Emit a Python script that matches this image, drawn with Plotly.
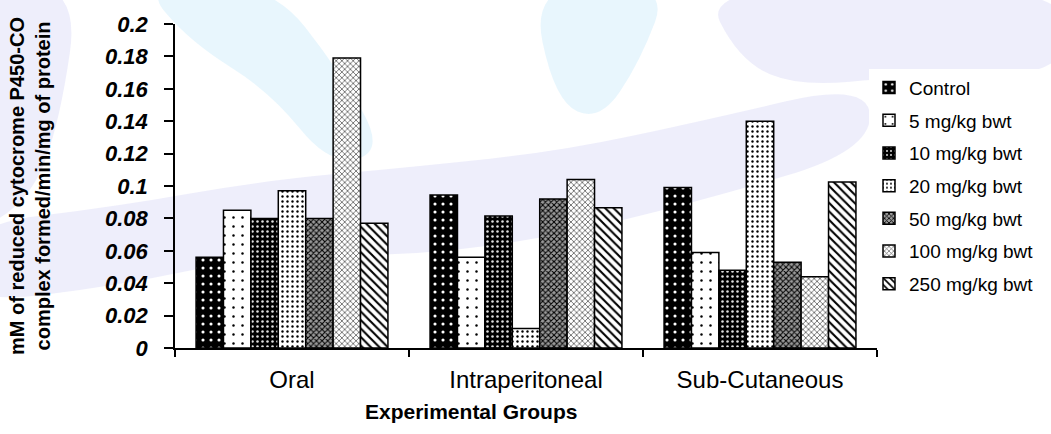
import plotly.graph_objects as go

# Route of administration groups
groups = ["Oral", "Intraperitoneal", "Sub-Cutaneous"]

# Dose series names
doses = ["Control", "5 mg/kg bwt", "10 mg/kg bwt", "20 mg/kg bwt",
         "50 mg/kg bwt", "100 mg/kg bwt", "250 mg/kg bwt"]

# Reduced cytochrome P450-CO complex (mM/min/mg protein) per dose, per group
control = [0.056, 0.0945, 0.099]
dose_5 = [0.085, 0.056, 0.059]
dose_10 = [0.080, 0.0815, 0.048]
dose_20 = [0.097, 0.012, 0.140]
dose_50 = [0.080, 0.092, 0.053]
dose_100 = [0.179, 0.104, 0.044]
dose_250 = [0.077, 0.0865, 0.1025]

series = [control, dose_5, dose_10, dose_20, dose_50, dose_100, dose_250]

# Fill pattern for each dose: (shape, background, foreground, size, solidity)
patterns = [
    (".", "#000000", "#ffffff", 8, 0.12),
    (".", "#ffffff", "#000000", 9, 0.06),
    (".", "#000000", "#e0e0e0", 5, 0.20),
    (".", "#ffffff", "#000000", 5, 0.18),
    ("x", "#9a9a9a", "#000000", 4, 0.45),
    ("x", "#ffffff", "#555555", 4, 0.35),
    ("\\", "#ffffff", "#000000", 6, 0.35),
]

# Plot area in page pixels, used to place the faint backdrop swirls
PX_L, PX_R, PX_T, PX_B = 175, 877, 22, 348


def to_paper(x, y):
    return (x - PX_L) / (PX_R - PX_L), (PX_B - y) / (PX_B - PX_T)


def smooth_path(pts):
    """Closed, rounded outline through the midpoints of the given corners."""
    p = [to_paper(x, y) for x, y in pts]
    n = len(p)
    mid = [((p[i][0] + p[(i + 1) % n][0]) / 2, (p[i][1] + p[(i + 1) % n][1]) / 2)
           for i in range(n)]
    d = f"M {mid[-1][0]:.4f},{mid[-1][1]:.4f}"
    for i in range(n):
        d += f" Q {p[i][0]:.4f},{p[i][1]:.4f} {mid[i][0]:.4f},{mid[i][1]:.4f}"
    return d + " Z"


LAV = "rgba(200,200,242,0.30)"
BLUE = "rgba(180,225,248,0.30)"

# Soft decorative backdrop bands (lavender and pale blue)
backdrop = [
    ([(-40, -20), (80, -20), (60, 120), (30, 200), (-40, 240)], LAV),
    ([(-40, 225), (120, 205), (260, 180), (420, 165), (560, 150), (700, 120), (870, 80),
      (870, 150), (700, 200), (560, 235), (420, 255), (260, 255), (120, 285), (-40, 305)], LAV),
    ([(140, -20), (270, -20), (340, 70), (385, 150), (330, 165), (270, 90), (190, 40)], BLUE),
    ([(530, -20), (670, -20), (640, 60), (600, 120), (555, 100)], BLUE),
    ([(700, -20), (1070, -20), (1070, 75), (900, 75), (800, 85), (740, 60)], LAV),
]

fig = go.Figure()
for name, vals, (shape, bg, fg, size, sol) in zip(doses, series, patterns):
    fig.add_trace(go.Bar(
        x=groups, y=vals, name=name, legendgroup=name,
        marker=dict(
            color=bg,
            line=dict(color="#000000", width=1.5),
            pattern=dict(shape=shape, bgcolor=bg, fgcolor=fg,
                         size=size, solidity=sol, fillmode="replace"),
        ),
    ))

fig.update_layout(
    width=1051, height=434,
    margin=dict(l=PX_L, r=1051 - PX_R, t=PX_T, b=434 - PX_B),
    paper_bgcolor="#ffffff",
    plot_bgcolor="rgba(0,0,0,0)",
    barmode="group",
    bargap=0.18,
    bargroupgap=0,
    font=dict(family="Arial", color="#000000"),
    shapes=[dict(type="path", path=smooth_path(pts), xref="paper", yref="paper",
                 fillcolor=col, line=dict(width=0), layer="below")
            for pts, col in backdrop],
    legend=dict(
        x=0.9886, y=0.862, xanchor="left", yanchor="top",
        font=dict(size=19, family="Arial"),
        bgcolor="#ffffff",
        itemwidth=30,
        tracegroupgap=5,
    ),
    xaxis=dict(
        showline=True, linecolor="#000000", linewidth=1.5,
        ticks="outside", ticklen=7, tickcolor="#000000", tickwidth=1.5,
        tickson="boundaries",
        tickfont=dict(size=24, family="Arial"),
        ticklabelstandoff=9,
    ),
    yaxis=dict(
        range=[0, 0.2], dtick=0.02,
        showline=True, linecolor="#000000", linewidth=1.5,
        ticks="outside", ticklen=9, tickcolor="#000000", tickwidth=1.5,
        showgrid=False, zeroline=False,
        tickfont=dict(size=22, family="Arial", weight="bold", style="italic"),
        ticklabelstandoff=12,
        title=dict(text="mM of reduced cytocrome P450-CO<br>complex formed/min/mg of protein",
                   font=dict(size=20, family="Arial", weight="bold"),
                   standoff=49),
    ),
    annotations=[dict(
        text="Experimental Groups", xref="paper", yref="paper",
        x=0.4217, y=-0.196, xanchor="center", yanchor="middle",
        showarrow=False, font=dict(size=21, family="Arial", weight="bold"),
    )],
)

fig.write_html("out.html")
